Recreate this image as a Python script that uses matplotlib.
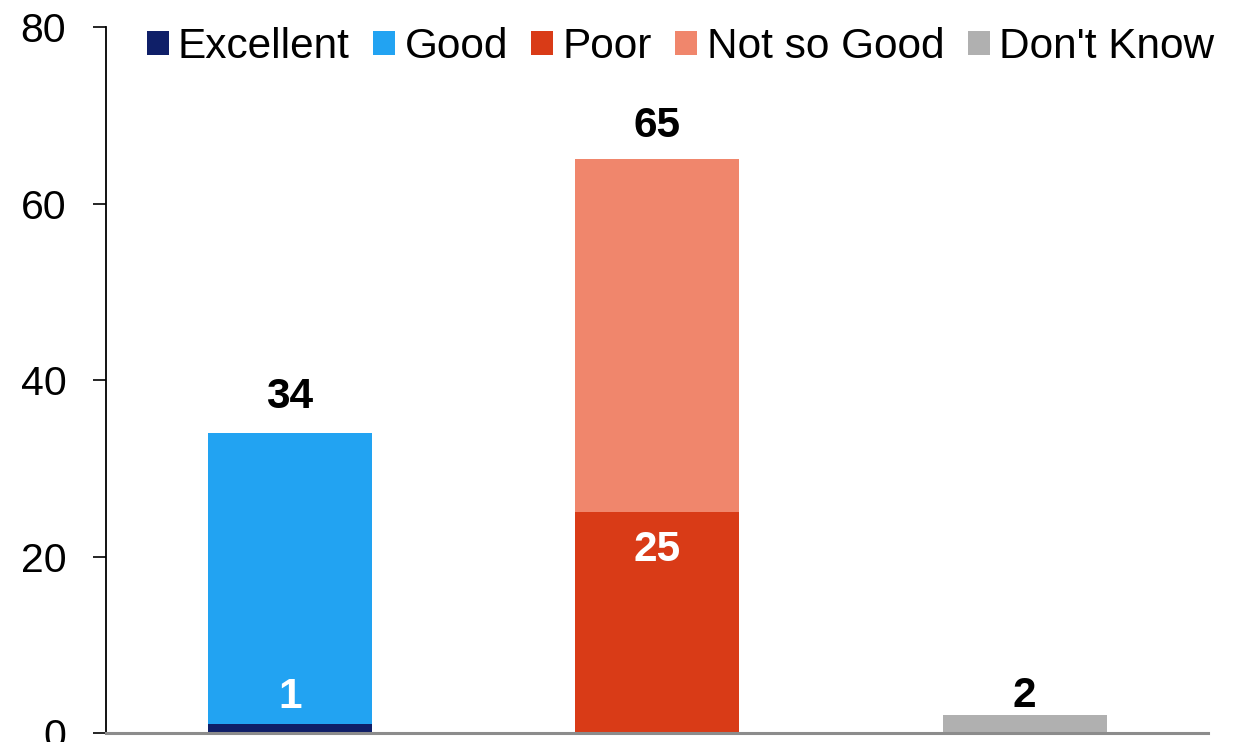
import matplotlib.pyplot as plt
import numpy as np

plt.rcParams['font.family'] = ['Liberation Sans', 'DejaVu Sans']

# survey answers, one column per group
groups = ['Good overall', 'Poor overall', "Don't Know"]
excellent = [1, 0, 0]
good = [33, 0, 0]
poor = [0, 25, 0]
not_so_good = [0, 40, 0]
dont_know = [0, 0, 2]
totals = [34, 65, 2]

colors = {
    'Excellent': '#0f1f68',
    'Good': '#22a3f2',
    'Poor': '#d93b17',
    'Not so Good': '#f0866c',
    "Don't Know": '#b0b0b0',
}

fig = plt.figure(figsize=(12.45, 7.42), dpi=100)
ax = fig.add_axes([0.0851, 0.0121, 0.8855, 0.9515])

x = np.arange(len(groups))
w = 0.446
bottom = np.zeros(len(groups))
for name, vals in [('Excellent', excellent), ('Good', good), ('Poor', poor),
                   ('Not so Good', not_so_good), ("Don't Know", dont_know)]:
    ax.bar(x, vals, w, bottom=bottom, color=colors[name], label=name)
    bottom += np.array(vals)

lbl = dict(ha='center', va='center', fontsize=30.5, fontweight='bold')
# totals above each stack
ax.text(x[0], totals[0] + 4.1, str(totals[0]), color='black', **lbl)
ax.text(x[1], totals[1] + 3.8, str(totals[1]), color='black', **lbl)
ax.text(x[2], totals[2] + 2.2, str(totals[2]), color='black', **lbl)
# segment values drawn in white
ax.text(x[0], excellent[0] + 3.1, str(excellent[0]), color='white', **lbl)
ax.text(x[1], poor[1] - 4.3, str(poor[1]), color='white', **lbl)

ax.set_xlim(-0.5, 2.5)
ax.set_ylim(0, 80)
ax.set_yticks([0, 20, 40, 60, 80])
ax.set_xticks([])
ax.tick_params(axis='y', labelsize=29.5, length=9.5, width=1.2, pad=19)

for s in ['top', 'right']:
    ax.spines[s].set_visible(False)
ax.spines['left'].set_linewidth(1.3)
ax.spines['bottom'].set_color('#8c8c8c')
ax.spines['bottom'].set_linewidth(2.2)

ax.legend(loc='upper center', bbox_to_anchor=(0.521, 1.03), ncol=5, frameon=False,
          fontsize=30.5, handlelength=0.52, handleheight=0.52, handletextpad=0.22,
          columnspacing=0.55, borderpad=0)

fig.savefig('out.png', dpi=100)
